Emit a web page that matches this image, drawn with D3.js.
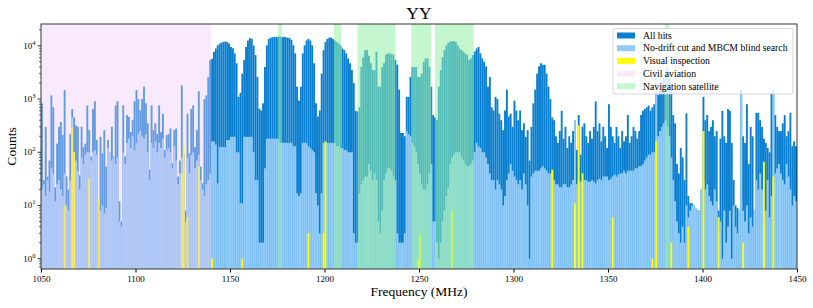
<!DOCTYPE html>
<html lang="en">
<head>
<meta charset="UTF-8">
<title>YY</title>
<script src="https://d3js.org/d3.v7.min.js"></script>
<style>
  body { margin: 0; background: #fff; }
  text { font-family: "Liberation Serif", "DejaVu Serif", serif; fill: #000; }
</style>
</head>
<body>
<svg width="813" height="308"></svg>
<script>
// histogram bins are 1 MHz wide, first bin starts at 1050 MHz
const binStart = 1050;

// all hits, counts per bin (one row = 20 MHz)
const allHits = [
  830,30,300,35,70,1170,700,22,145,300,370,210,1470,35,20,220,650,450,320,300,
  37,300,125,145,760,260,83,650,910,170,10,195,95,260,54,170,100,300,83,760,
  910,12,5,760,83,500,460,240,400,910,1470,1000,610,1000,1700,830,350,47,760,260,
  350,220,760,240,530,110,210,220,280,62,260,280,35,70,1800,95,8,530,95,650,
  760,125,260,1400,54,26,1000,1170,2600,5400,5700,7700,8900,10200,11000,11500,11800,12000,11800,11000,
  9500,9000,7200,4700,1100,1300,3000,5400,9500,12600,14000,13500,10200,6700,2600,660,610,830,4000,10200,
  13500,14200,14500,14800,14500,14800,15000,14500,14800,14500,14200,14000,13000,10200,7200,1700,930,1700,7200,10200,
  12600,13500,12600,10200,4700,830,470,610,3000,8300,11800,13500,14200,14200,13500,12600,11800,11000,10200,8900,
  8300,7200,5800,4700,3500,2000,600,580,700,4000,6000,8300,8300,6500,4700,3500,3500,7800,1700,1700,
  4000,4700,6800,7200,7200,7000,6800,5400,4400,1500,230,230,200,1100,1100,2600,4000,4000,4000,2600,
  2600,3000,5000,5800,5800,4000,1700,500,450,400,1700,3500,6100,8300,10200,11500,12000,12200,12200,11800,
  10200,8900,8300,7800,7200,6700,5400,5800,6700,7800,8900,9500,7200,5800,5000,4100,1700,2600,700,610,
  1100,1000,530,400,260,610,1500,470,530,300,930,610,400,610,260,350,195,260,70,300,
  830,1500,3000,4100,4700,4400,4400,3000,1700,1000,450,400,200,150,250,600,180,300,120,200,
  150,250,400,110,500,90,300,350,200,150,250,180,300,900,250,350,160,300,200,120,
  800,300,200,150,300,200,120,250,160,200,500,150,200,300,250,180,250,500,600,650,
  700,750,600,700,800,3200,1200,1500,2000,2500,3500,4000,3000,1500,500,350,60,40,120,80,
  30,540,15,11,11,10,9,8,8,20,1100,400,500,250,300,400,200,250,8,180,
  600,200,150,650,600,150,30,10,9,8,1500,200,150,800,60,300,200,8,550,550,
  400,300,180,150,120,100,1300,1500,500,300,250,250,350,500,200,250,550,130,160,130
];

// hits left after the no-drift cut and the MBCM blind search
const noDrift = [
  20,25,15,30,18,50,40,12,25,30,20,15,40,10,8,30,450,60,70,45,
  20,80,60,90,100,100,70,100,110,90,8,8,10,7,9,120,100,70,80,60,
  80,5,4,100,60,150,180,120,200,110,150,220,250,200,180,220,100,30,150,120,
  160,100,150,120,180,80,110,120,100,50,130,70,25,40,80,60,5,80,40,90,
  100,50,70,90,30,20,15,25,30,40,160,160,140,26,125,125,125,125,170,170,
  195,195,195,100,100,11,11,195,195,195,195,195,100,30,30,2,2,2,50,180,
  180,180,180,180,180,180,150,150,150,150,150,150,150,130,130,17,15,17,150,150,
  150,130,120,110,100,17,10,3,17,150,150,150,150,150,150,150,130,130,120,120,
  110,110,100,100,100,3,2,2,17,25,30,35,35,60,45,30,40,30,5,3,
  8,30,40,50,50,45,35,30,3,2,2,2,3,250,220,200,150,130,100,60,
  40,25,20,20,25,40,60,5,5,2,1,2,5,8,15,22,60,80,90,100,
  100,100,80,70,60,55,55,60,70,100,150,130,120,100,100,80,60,40,30,30,
  20,30,25,20,10,15,30,40,60,45,35,30,25,30,20,40,25,10,1,35,
  40,45,45,45,50,55,50,45,40,40,40,30,25,25,22,22,25,25,22,22,
  25,30,400,25,30,28,28,30,30,28,28,30,28,26,30,32,30,35,35,35,
  30,32,35,38,35,38,40,40,45,40,45,45,45,45,50,50,55,55,60,70,
  80,90,90,100,100,3100,200,250,300,350,400,300,200,80,30,12,5,3,2,4,
  2,10,6,8,10,10,9,8,8,20,30,20,25,15,12,10,20,12,3,5,
  1,8,2,4,8,1,10,4,3,8,1300,8,5,10,3,6,4,8,30,20,
  40,20,5,8,30,6,15,1500,40,50,60,40,30,25,60,35,20,10,15,12
];

// visual inspection hits: bin start (MHz) and counts
const visualFreq = [1062,1066,1067,1075,1080,1124,1125,1127,1133,1140,1156,1191,1199,1200,1249,1250,1267,
  1320,1332,1334,1336,1352,1373,1375,1383,1392,1400,1408,1421,1432,1437];
const visualCounts = [10,300,100,32,14,40,130,6,55,1,1,3,3,160,1,3,8,
  47,11,320,40,6,1,160,2,4,250,6,2,66,35];

// RFI bands (MHz)
const civilBands = [[1050, 1140]];
const navBands = [[1175.5, 1177.5], [1205, 1209], [1217.5, 1237.5], [1246, 1256.5], [1258.5, 1279], [1380, 1382.5]];

const xTicks = [1050, 1100, 1150, 1200, 1250, 1300, 1350, 1400, 1450];
const yTicks = [1, 10, 100, 1000, 10000];

const colors = {
  all: '#0a7fcf',
  nodrift: '#92cbf7',
  visual: '#ffff00',
  civil: '#edc7f7',
  nav: '#96f0a5'
};

const plotL = 41, plotR = 797, plotT = 24, plotB = 269;

const x = d3.scaleLinear().domain([1050, 1450]).range([plotL, plotR]);
const y = d3.scaleLog().domain([0.64, 25700]).range([plotB, plotT]);

const svg = d3.select('svg');

svg.append('clipPath').attr('id', 'plot')
  .append('rect')
  .attr('x', plotL).attr('y', plotT)
  .attr('width', plotR - plotL).attr('height', plotB - plotT);

const plot = svg.append('g').attr('clip-path', 'url(#plot)');

// turn a counts array into bins, skipping empty ones
function bins(values) {
  return values.map((v, i) => ({ f: binStart + i, v: v })).filter(d => d.v > 0);
}

function drawBars(data, fill) {
  plot.append('g')
    .selectAll('rect')
    .data(data)
    .join('rect')
    .attr('x', d => x(d.f))
    .attr('width', d => x(d.f + 1) - x(d.f))
    .attr('y', d => y(d.v))
    .attr('height', d => plotB - y(d.v))
    .attr('fill', fill);
}

drawBars(bins(allHits), colors.all);
drawBars(bins(noDrift), colors.nodrift);
drawBars(visualFreq.map((f, i) => ({ f: f, v: visualCounts[i] })), colors.visual);

// shaded bands go over the bars
plot.append('g')
  .selectAll('rect')
  .data(civilBands)
  .join('rect')
  .attr('x', d => x(d[0]))
  .attr('width', d => x(d[1]) - x(d[0]))
  .attr('y', plotT).attr('height', plotB - plotT)
  .attr('fill', colors.civil).attr('fill-opacity', 0.4);

plot.append('g')
  .selectAll('rect')
  .data(navBands)
  .join('rect')
  .attr('x', d => x(d[0]))
  .attr('width', d => x(d[1]) - x(d[0]))
  .attr('y', plotT).attr('height', plotB - plotT)
  .attr('fill', colors.nav).attr('fill-opacity', 0.55);

// x axis
const xAxis = svg.append('g')
  .attr('transform', `translate(0,${plotB})`)
  .call(d3.axisBottom(x).tickValues(xTicks).tickSize(3.5).tickPadding(3).tickFormat(d3.format('d')));
xAxis.select('.domain').remove();
xAxis.selectAll('text').attr('font-size', 9).attr('font-family', null);

// y axis: minor ticks then major ticks with 10^n labels
const minor = [];
[0.1, 1, 10, 100, 1000, 10000].forEach(p => {
  for (let k = 2; k <= 9; k++) {
    const v = p * k;
    if (v >= 0.64 && v <= 25700) minor.push(v);
  }
});

svg.append('g')
  .selectAll('line')
  .data(minor)
  .join('line')
  .attr('x1', plotL - 2).attr('x2', plotL)
  .attr('y1', d => y(d)).attr('y2', d => y(d))
  .attr('stroke', '#000').attr('stroke-width', 0.6);

svg.append('g')
  .selectAll('line')
  .data(yTicks)
  .join('line')
  .attr('x1', plotL - 3.5).attr('x2', plotL)
  .attr('y1', d => y(d)).attr('y2', d => y(d))
  .attr('stroke', '#000').attr('stroke-width', 0.8);

const yLab = svg.append('g')
  .selectAll('text')
  .data(yTicks)
  .join('text')
  .attr('x', plotL - 5.5)
  .attr('y', d => y(d) + 3)
  .attr('text-anchor', 'end')
  .attr('font-size', 9);
yLab.append('tspan').text('10');
yLab.append('tspan')
  .attr('dy', -4)
  .attr('font-size', 6.5)
  .text(d => Math.round(Math.log10(d)));

// frame
svg.append('rect')
  .attr('x', plotL).attr('y', plotT)
  .attr('width', plotR - plotL).attr('height', plotB - plotT)
  .attr('fill', 'none').attr('stroke', '#222').attr('stroke-width', 0.9);

// titles
svg.append('text')
  .attr('x', (plotL + plotR) / 2).attr('y', 19)
  .attr('text-anchor', 'middle')
  .attr('font-size', 17.5)
  .text('YY');

svg.append('text')
  .attr('x', (plotL + plotR) / 2).attr('y', 296)
  .attr('text-anchor', 'middle')
  .attr('font-size', 13.5)
  .text('Frequency (MHz)');

svg.append('text')
  .attr('transform', `translate(16,${(plotT + plotB) / 2}) rotate(-90)`)
  .attr('text-anchor', 'middle')
  .attr('font-size', 13.5)
  .text('Counts');

// legend
const legendItems = [
  { label: 'All hits', fill: colors.all, op: 1 },
  { label: 'No-drift cut and MBCM blind search', fill: colors.nodrift, op: 1 },
  { label: 'Visual inspection', fill: colors.visual, op: 1 },
  { label: 'Civil aviation', fill: colors.civil, op: 0.4 },
  { label: 'Navigation satellite', fill: colors.nav, op: 0.55 }
];

const legend = svg.append('g').attr('transform', 'translate(613,28.5)');
legend.append('rect')
  .attr('width', 180).attr('height', 65.5)
  .attr('rx', 2)
  .attr('fill', '#fff').attr('fill-opacity', 0.8)
  .attr('stroke', '#ccc').attr('stroke-width', 0.8);

const row = legend.selectAll('g.item')
  .data(legendItems)
  .join('g')
  .attr('class', 'item')
  .attr('transform', (d, i) => `translate(0,${7 + i * 12.7})`);

row.append('rect')
  .attr('x', 4).attr('y', -3)
  .attr('width', 18).attr('height', 6)
  .attr('fill', d => d.fill).attr('fill-opacity', d => d.op);

row.append('text')
  .attr('x', 30).attr('y', 3.2)
  .attr('font-size', 9.7)
  .text(d => d.label);
</script>
</body>
</html>
